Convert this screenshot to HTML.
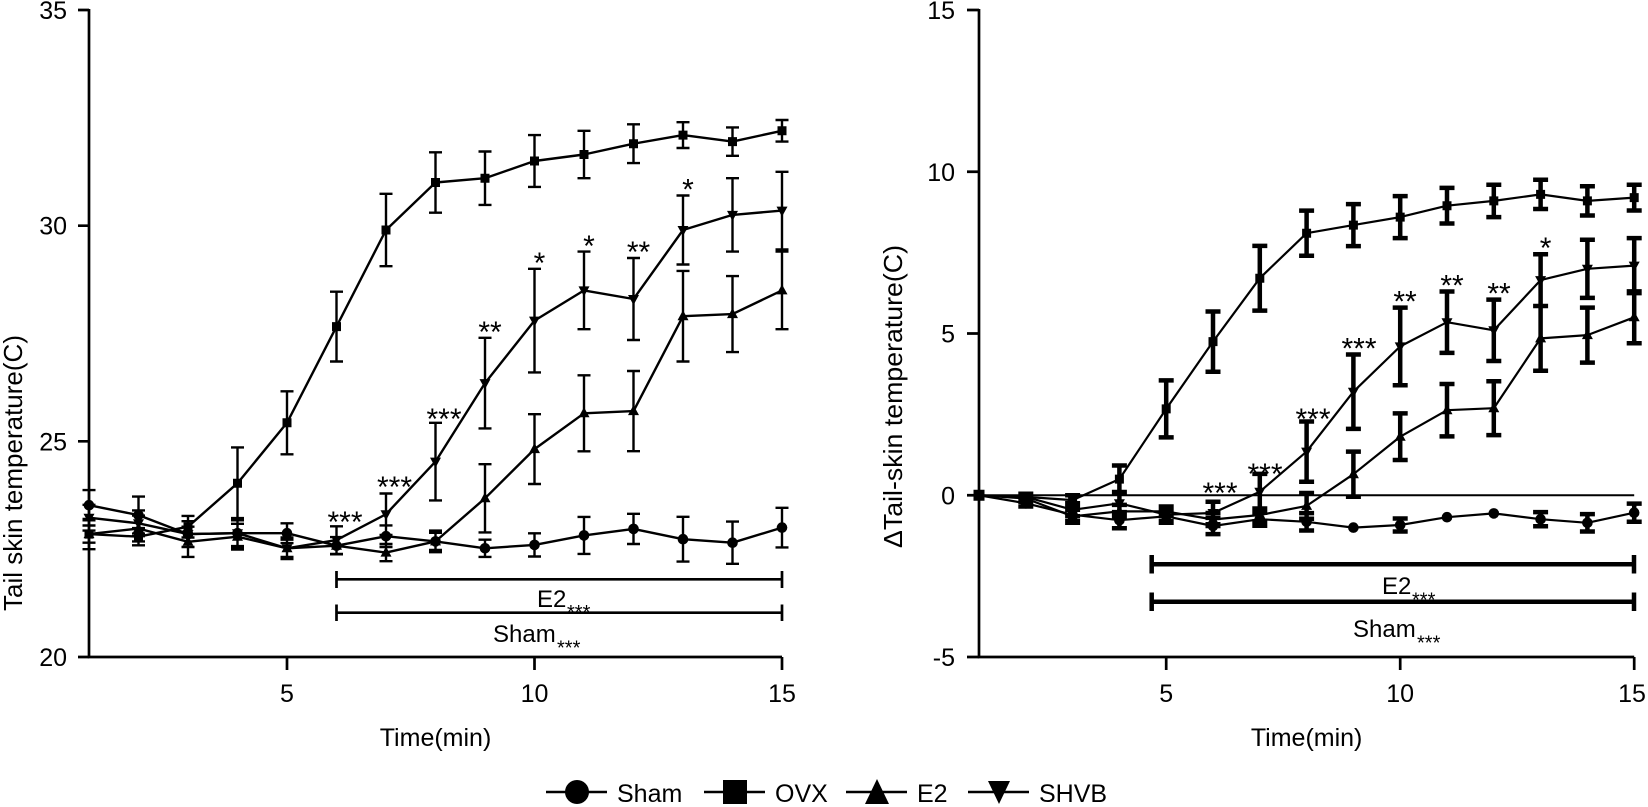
<!DOCTYPE html>
<html><head><meta charset="utf-8"><style>
html,body{margin:0;padding:0;background:#fff;}
svg{display:block;}
text{font-family:"Liberation Sans",Arial,sans-serif;fill:#000;}
</style></head><body>
<svg width="1648" height="807" viewBox="0 0 1648 807" xmlns="http://www.w3.org/2000/svg">
<rect width="1648" height="807" fill="#fff"/>

<g fill="none" stroke="#000" stroke-width="2.7">
<path d="M89,9V657H782"/>
<path d="M78,10H89M78,225.7H89M78,441.3H89M78,657H89"/>
<path d="M287,657V670M534.5,657V670M782,657V670"/>
</g>
<g font-size="25" text-anchor="end">
<text x="67" y="19">35</text>
<text x="67" y="234.7">30</text>
<text x="67" y="450.5">25</text>
<text x="67" y="666">20</text>
</g>
<g font-size="25" text-anchor="middle">
<text x="287" y="702">5</text>
<text x="534.5" y="702">10</text>
<text x="782" y="702">15</text>
<text x="435.5" y="746">Time(min)</text>
</g>
<text font-size="26" text-anchor="middle" transform="translate(22,473) rotate(-90)" textLength="276" lengthAdjust="spacingAndGlyphs">Tail skin temperature(C)</text>

<path fill="none" stroke="#000" stroke-width="2.4" d="
M89,490.1V520.3M82.5,490.1h13M82.5,520.3h13
M138.5,496.6V533.6M132,496.6h13M132,533.6h13
M188,521.2V547M181.5,521.2h13M181.5,547h13
M237.5,518.1V548.3M231,518.1h13M231,548.3h13
M287,523.3V543.1M280.5,523.3h13M280.5,543.1h13
M336.5,537.1V554.3M330,537.1h13M330,554.3h13
M386,525.4V547M379.5,525.4h13M379.5,547h13
M435.5,530.6V552.2M429,530.6h13M429,552.2h13
M485,539.7V556.9M478.5,539.7h13M478.5,556.9h13
M534.5,533.3V556.5M528,533.3h13M528,556.5h13
M584,516.9V553.9M577.5,516.9h13M577.5,553.9h13
M633.5,513.8V544M627,513.8h13M627,544h13
M683,516.8V561.6M676.5,516.8h13M676.5,561.6h13
M732.5,521.6V563.8M726,521.6h13M726,563.8h13
M782,507.8V547.4M775.5,507.8h13M775.5,547.4h13
M89,519V549.2M82.5,519h13M82.5,549.2h13
M138.5,515.6V541.4M132,515.6h13M132,541.4h13
M188,526.7V556.9M181.5,526.7h13M181.5,556.9h13
M237.5,523.8V549.6M231,523.8h13M231,549.6h13
M287,539.7V556.9M280.5,539.7h13M280.5,556.9h13
M336.5,537.1V554.3M330,537.1h13M330,554.3h13
M386,544V561.2M379.5,544h13M379.5,561.2h13
M435.5,532.8V550M429,532.8h13M429,550h13
M485,464.2V532.4M478.5,464.2h13M478.5,532.4h13
M534.5,414.2V484M528,414.2h13M528,484h13
M584,375.3V451.3M577.5,375.3h13M577.5,451.3h13
M633.5,371V451.2M627,371h13M627,451.2h13
M683,270.9V361.5M676.5,270.9h13M676.5,361.5h13
M732.5,276.1V352.1M726,276.1h13M726,352.1h13
M782,251.6V329.2M775.5,251.6h13M775.5,329.2h13
M89,504.8V530.6M82.5,504.8h13M82.5,530.6h13
M138.5,510.4V536.2M132,510.4h13M132,536.2h13
M188,521.2V547M181.5,521.2h13M181.5,547h13
M237.5,520.3V546.1M231,520.3h13M231,546.1h13
M287,537.5V559.1M280.5,537.5h13M280.5,559.1h13
M336.5,526.3V553.9M330,526.3h13M330,553.9h13
M386,493.5V534.9M379.5,493.5h13M379.5,534.9h13
M435.5,422.8V500.4M429,422.8h13M429,500.4h13
M485,337.8V428.4M478.5,337.8h13M478.5,428.4h13
M534.5,268.8V372.4M528,268.8h13M528,372.4h13
M584,251.6V329.2M577.5,251.6h13M577.5,329.2h13
M633.5,258V340M627,258h13M627,340h13
M683,195.5V264.5M676.5,195.5h13M676.5,264.5h13
M732.5,178.2V251.6M726,178.2h13M726,251.6h13
M782,171.8V249.4M775.5,171.8h13M775.5,249.4h13
M89,525.5V542.7M82.5,525.5h13M82.5,542.7h13
M138.5,528.1V545.3M132,528.1h13M132,545.3h13
M188,515.9V537.5M181.5,515.9h13M181.5,537.5h13
M237.5,447.4V519M231,447.4h13M231,519h13
M287,391.3V454.3M280.5,391.3h13M280.5,454.3h13
M336.5,291.7V361.5M330,291.7h13M330,361.5h13
M386,193.8V266.2M379.5,193.8h13M379.5,266.2h13
M435.5,152.3V212.7M429,152.3h13M429,212.7h13
M485,151.5V204.9M478.5,151.5h13M478.5,204.9h13
M534.5,135.1V186.9M528,135.1h13M528,186.9h13
M584,130.8V178.2M577.5,130.8h13M577.5,178.2h13
M633.5,124.3V163.1M627,124.3h13M627,163.1h13
M683,122.2V148M676.5,122.2h13M676.5,148h13
M732.5,127.4V155.8M726,127.4h13M726,155.8h13
M782,120V141.6M775.5,120h13M775.5,141.6h13"/>

<g fill="none" stroke="#000" stroke-width="2.4" stroke-linejoin="round">
<polyline points="89,505.2 138.5,515.1 188,534.1 237.5,533.2 287,533.2 336.5,545.7 386,536.2 435.5,541.4 485,548.3 534.5,544.9 584,535.4 633.5,528.9 683,539.2 732.5,542.7 782,527.6"/>
<polyline points="89,534.1 138.5,536.7 188,526.7 237.5,483.2 287,422.8 336.5,326.6 386,230 435.5,182.5 485,178.2 534.5,161 584,154.5 633.5,143.7 683,135.1 732.5,141.6 782,130.8"/>
<polyline points="89,534.1 138.5,528.5 188,541.8 237.5,536.7 287,548.3 336.5,545.7 386,552.6 435.5,541.4 485,498.3 534.5,449.1 584,413.3 633.5,411.1 683,316.2 732.5,314.1 782,290.4"/>
<polyline points="89,517.7 138.5,523.3 188,534.1 237.5,533.2 287,548.3 336.5,540.1 386,514.2 435.5,461.6 485,383.1 534.5,320.6 584,290.4 633.5,299 683,230 732.5,214.9 782,210.6"/>
</g>

<g fill="#000">
<circle cx="89" cy="505.2" r="5.3"/><circle cx="138.5" cy="515.1" r="5.3"/><circle cx="188" cy="534.1" r="5.3"/><circle cx="237.5" cy="533.2" r="5.3"/><circle cx="287" cy="533.2" r="5.3"/><circle cx="336.5" cy="545.7" r="5.3"/><circle cx="386" cy="536.2" r="5.3"/><circle cx="435.5" cy="541.4" r="5.3"/><circle cx="485" cy="548.3" r="5.3"/><circle cx="534.5" cy="544.9" r="5.3"/><circle cx="584" cy="535.4" r="5.3"/><circle cx="633.5" cy="528.9" r="5.3"/><circle cx="683" cy="539.2" r="5.3"/><circle cx="732.5" cy="542.7" r="5.3"/><circle cx="782" cy="527.6" r="5.3"/>
<path d="M84.5,529.6h9v9h-9zM134,532.2h9v9h-9zM183.5,522.2h9v9h-9zM233,478.7h9v9h-9zM282.5,418.3h9v9h-9zM332,322.1h9v9h-9zM381.5,225.5h9v9h-9zM431,178h9v9h-9zM480.5,173.7h9v9h-9zM530,156.5h9v9h-9zM579.5,150h9v9h-9zM629,139.2h9v9h-9zM678.5,130.6h9v9h-9zM728,137.1h9v9h-9zM777.5,126.3h9v9h-9z"/>
<path d="M89,528.1l5.5,10h-11zM138.5,522.5l5.5,10h-11zM188,535.8l5.5,10h-11zM237.5,530.7l5.5,10h-11zM287,542.3l5.5,10h-11zM336.5,539.7l5.5,10h-11zM386,546.6l5.5,10h-11zM435.5,535.4l5.5,10h-11zM485,492.3l5.5,10h-11zM534.5,443.1l5.5,10h-11zM584,407.3l5.5,10h-11zM633.5,405.1l5.5,10h-11zM683,310.2l5.5,10h-11zM732.5,308.1l5.5,10h-11zM782,284.4l5.5,10h-11z"/>
<path d="M89,523.7l5.5,-10h-11zM138.5,529.3l5.5,-10h-11zM188,540.1l5.5,-10h-11zM237.5,539.2l5.5,-10h-11zM287,554.3l5.5,-10h-11zM336.5,546.1l5.5,-10h-11zM386,520.2l5.5,-10h-11zM435.5,467.6l5.5,-10h-11zM485,389.1l5.5,-10h-11zM534.5,326.6l5.5,-10h-11zM584,296.4l5.5,-10h-11zM633.5,305l5.5,-10h-11zM683,236l5.5,-10h-11zM732.5,220.9l5.5,-10h-11zM782,216.6l5.5,-10h-11z"/>
</g>

<g font-size="30" text-anchor="middle">
<text x="345" y="532">***</text>
<text x="394.5" y="497">***</text>
<text x="444" y="429">***</text>
<text x="490" y="342">**</text>
<text x="539.5" y="273">*</text>
<text x="589" y="256">*</text>
<text x="638.5" y="262">**</text>
<text x="688" y="199.5">*</text>
</g>

<path fill="none" stroke="#000" stroke-width="2.7" d="M336.5,579.3H782M336.5,571V588M782,571V588M336.5,612.7H782M336.5,604.5V621M782,604.5V621"/>
<text x="537" y="607" font-size="24">E2</text>
<text x="567" y="619" font-size="20">***</text>
<text x="493" y="642" font-size="24">Sham</text>
<text x="557" y="654.5" font-size="20">***</text>

<g fill="none" stroke="#000" stroke-width="2.7">
<path d="M979,9V657H1634.2"/>
<path d="M967,10H979M967,171.75H979M967,333.5H979M967,495.25H979M967,657H979"/>
<path d="M1166.2,657V670M1400.2,657V670M1634.2,657V670"/>
</g>
<path fill="none" stroke="#000" stroke-width="2" d="M979,495.25H1634.2"/>
<g font-size="25" text-anchor="end">
<text x="955" y="19">15</text>
<text x="955" y="180.8">10</text>
<text x="955" y="342.5">5</text>
<text x="955" y="504.3">0</text>
<text x="955" y="666">-5</text>
</g>
<g font-size="25" text-anchor="middle">
<text x="1166.2" y="702">5</text>
<text x="1400.2" y="702">10</text>
<text x="1632" y="702">15</text>
<text x="1306.6" y="746">Time(min)</text>
</g>
<text font-size="26" text-anchor="middle" transform="translate(902,396.5) rotate(-90)" textLength="303" lengthAdjust="spacingAndGlyphs">ΔTail-skin temperature(C)</text>

<path fill="none" stroke="#000" stroke-width="4.5" d="
M1025.8,500.1V506.5M1018.3,500.1h15M1018.3,506.5h15
M1072.6,508.2V521.2M1065.1,508.2h15M1065.1,521.2h15
M1119.4,512.1V528.3M1111.9,512.1h15M1111.9,528.3h15
M1166.2,509.8V522.8M1158.7,509.8h15M1158.7,522.8h15
M1213,517.9V534.1M1205.5,517.9h15M1205.5,534.1h15
M1259.8,512.7V525.7M1252.3,512.7h15M1252.3,525.7h15
M1306.6,513.1V530.5M1299.1,513.1h15M1299.1,530.5h15
M1400.2,518.5V531.5M1392.7,518.5h15M1392.7,531.5h15
M1540.6,512.1V526.3M1533.1,512.1h15M1533.1,526.3h15
M1587.4,514.1V531.5M1579.9,514.1h15M1579.9,531.5h15
M1634.2,503.6V521.8M1626.7,503.6h15M1626.7,521.8h15
M1025.8,495.3V501.7M1018.3,495.3h15M1018.3,501.7h15
M1072.6,509.8V522.8M1065.1,509.8h15M1065.1,522.8h15
M1119.4,504.9V517.9M1111.9,504.9h15M1111.9,517.9h15
M1166.2,506.5V516.3M1158.7,506.5h15M1158.7,516.3h15
M1213,513V526M1205.5,513h15M1205.5,526h15
M1259.8,508.5V521.5M1252.3,508.5h15M1252.3,521.5h15
M1306.6,493V518.8M1299.1,493h15M1299.1,518.8h15
M1353.4,451.6V496.8M1345.9,451.6h15M1345.9,496.8h15
M1400.2,413.4V460M1392.7,413.4h15M1392.7,460h15
M1447,384V436.4M1439.5,384h15M1439.5,436.4h15
M1493.8,381.3V435.1M1486.3,381.3h15M1486.3,435.1h15
M1540.6,306V370.8M1533.1,306h15M1533.1,370.8h15
M1587.4,307.6V362.6M1579.9,307.6h15M1579.9,362.6h15
M1634.2,291.4V343.2M1626.7,291.4h15M1626.7,343.2h15
M1025.8,493.7V500.1M1018.3,493.7h15M1018.3,500.1h15
M1072.6,503.3V516.3M1065.1,503.3h15M1065.1,516.3h15
M1119.4,492V514.6M1111.9,492h15M1111.9,514.6h15
M1166.2,508.2V521.2M1158.7,508.2h15M1158.7,521.2h15
M1213,501.7V524.3M1205.5,501.7h15M1205.5,524.3h15
M1259.8,473.9V509.5M1252.3,473.9h15M1252.3,509.5h15
M1306.6,421.5V481.7M1299.1,421.5h15M1299.1,481.7h15
M1353.4,354.5V428.9M1345.9,354.5h15M1345.9,428.9h15
M1400.2,307.6V385.2M1392.7,307.6h15M1392.7,385.2h15
M1447,291.5V352.9M1439.5,291.5h15M1439.5,352.9h15
M1493.8,299.6V361M1486.3,299.6h15M1486.3,361h15
M1540.6,254.2V306M1533.1,254.2h15M1533.1,306h15
M1587.4,239.7V297.9M1579.9,239.7h15M1579.9,297.9h15
M1634.2,238.1V293.1M1626.7,238.1h15M1626.7,293.1h15
M1072.6,495.2V505M1065.1,495.2h15M1065.1,505h15
M1119.4,465.5V492.7M1111.9,465.5h15M1111.9,492.7h15
M1166.2,380.4V437.4M1158.7,380.4h15M1158.7,437.4h15
M1213,311.5V371.7M1205.5,311.5h15M1205.5,371.7h15
M1259.8,245.9V310.6M1252.3,245.9h15M1252.3,310.6h15
M1306.6,210.6V255.8M1299.1,210.6h15M1299.1,255.8h15
M1353.4,204.1V246.1M1345.9,204.1h15M1345.9,246.1h15
M1400.2,196.1V238.1M1392.7,196.1h15M1392.7,238.1h15
M1447,187.9V223.5M1439.5,187.9h15M1439.5,223.5h15
M1493.8,184.7V217.1M1486.3,184.7h15M1486.3,217.1h15
M1540.6,179.8V209M1533.1,179.8h15M1533.1,209h15
M1587.4,186.3V215.5M1579.9,186.3h15M1579.9,215.5h15
M1634.2,184.7V210.5M1626.7,184.7h15M1626.7,210.5h15"/>

<g fill="none" stroke="#000" stroke-width="2.2" stroke-linejoin="round">
<polyline points="979,495.3 1025.8,503.3 1072.6,514.7 1119.4,520.2 1166.2,516.3 1213,526 1259.8,519.2 1306.6,521.8 1353.4,527.6 1400.2,525 1447,517.2 1493.8,513.4 1540.6,519.2 1587.4,522.8 1634.2,512.7"/>
<polyline points="979,495.3 1025.8,498.5 1072.6,516.3 1119.4,511.4 1166.2,511.4 1213,519.5 1259.8,515 1306.6,505.9 1353.4,474.2 1400.2,436.7 1447,410.2 1493.8,408.2 1540.6,338.4 1587.4,335.1 1634.2,317.3"/>
<polyline points="979,495.3 1025.8,496.9 1072.6,509.8 1119.4,503.3 1166.2,514.7 1213,513 1259.8,491.7 1306.6,451.6 1353.4,391.7 1400.2,346.4 1447,322.2 1493.8,330.3 1540.6,280.1 1587.4,268.8 1634.2,265.6"/>
<polyline points="979,495.3 1025.8,496.9 1072.6,500.1 1119.4,479.1 1166.2,408.9 1213,341.6 1259.8,278.2 1306.6,233.2 1353.4,225.1 1400.2,217.1 1447,205.7 1493.8,200.9 1540.6,194.4 1587.4,200.9 1634.2,197.6"/>
</g>

<g fill="#000">
<circle cx="979" cy="495.3" r="5.3"/><circle cx="1025.8" cy="503.3" r="5.3"/><circle cx="1072.6" cy="514.7" r="5.3"/><circle cx="1119.4" cy="520.2" r="5.3"/><circle cx="1166.2" cy="516.3" r="5.3"/><circle cx="1213" cy="526" r="5.3"/><circle cx="1259.8" cy="519.2" r="5.3"/><circle cx="1306.6" cy="521.8" r="5.3"/><circle cx="1353.4" cy="527.6" r="5.3"/><circle cx="1400.2" cy="525" r="5.3"/><circle cx="1447" cy="517.2" r="5.3"/><circle cx="1493.8" cy="513.4" r="5.3"/><circle cx="1540.6" cy="519.2" r="5.3"/><circle cx="1587.4" cy="522.8" r="5.3"/><circle cx="1634.2" cy="512.7" r="5.3"/>
<path d="M1025.8,492.5l5.5,10h-11zM1072.6,510.3l5.5,10h-11zM1119.4,505.4l5.5,10h-11zM1166.2,505.4l5.5,10h-11zM1213,513.5l5.5,10h-11zM1259.8,509l5.5,10h-11zM1306.6,499.9l5.5,10h-11zM1353.4,468.2l5.5,10h-11zM1400.2,430.7l5.5,10h-11zM1447,404.2l5.5,10h-11zM1493.8,402.2l5.5,10h-11zM1540.6,332.4l5.5,10h-11zM1587.4,329.1l5.5,10h-11zM1634.2,311.3l5.5,10h-11z"/>
<path d="M1025.8,502.9l5.5,-10h-11zM1072.6,515.8l5.5,-10h-11zM1119.4,509.3l5.5,-10h-11zM1166.2,520.7l5.5,-10h-11zM1213,519l5.5,-10h-11zM1259.8,497.7l5.5,-10h-11zM1306.6,457.6l5.5,-10h-11zM1353.4,397.7l5.5,-10h-11zM1400.2,352.4l5.5,-10h-11zM1447,328.2l5.5,-10h-11zM1493.8,336.3l5.5,-10h-11zM1540.6,286.1l5.5,-10h-11zM1587.4,274.8l5.5,-10h-11zM1634.2,271.6l5.5,-10h-11z"/>
<path d="M973.5,489.8h11v11h-11zM1021.3,492.4h9v9h-9zM1068.1,495.6h9v9h-9zM1114.9,474.6h9v9h-9zM1161.7,404.4h9v9h-9zM1208.5,337.1h9v9h-9zM1255.3,273.7h9v9h-9zM1302.1,228.7h9v9h-9zM1348.9,220.6h9v9h-9zM1395.7,212.6h9v9h-9zM1442.5,201.2h9v9h-9zM1489.3,196.4h9v9h-9zM1536.1,189.9h9v9h-9zM1582.9,196.4h9v9h-9zM1629.7,193.1h9v9h-9z"/>
</g>

<g font-size="30" text-anchor="middle">
<text x="1220" y="503">***</text>
<text x="1265" y="484">***</text>
<text x="1313" y="429">***</text>
<text x="1359" y="358.5">***</text>
<text x="1405" y="311.6">**</text>
<text x="1452" y="295.5">**</text>
<text x="1499" y="303.6">**</text>
<text x="1545.6" y="258">*</text>
</g>

<path fill="none" stroke="#000" stroke-width="4.5" d="M1151.7,564.3H1634M1151.7,555V573.5M1634,555V573.5M1151.7,601.7H1634M1151.7,592.5V611M1634,592.5V611"/>
<text x="1382" y="594" font-size="24">E2</text>
<text x="1412" y="606.5" font-size="20">***</text>
<text x="1353" y="637" font-size="24">Sham</text>
<text x="1417" y="649.5" font-size="20">***</text>

<g fill="none" stroke="#000" stroke-width="2.5">
<path d="M546,792H607M704,792H765M846,792H907M968,792H1029"/>
</g>
<g fill="#000">
<circle cx="577" cy="792" r="12"/>
<rect x="723" y="780" width="24" height="24"/>
<path d="M877,779L889,804H865Z"/>
<path d="M999,804L1010,781H988Z"/>
</g>
<g font-size="25">
<text x="617" y="802">Sham</text>
<text x="775" y="802">OVX</text>
<text x="917" y="802">E2</text>
<text x="1039" y="802">SHVB</text>
</g>
</svg>
</body></html>
